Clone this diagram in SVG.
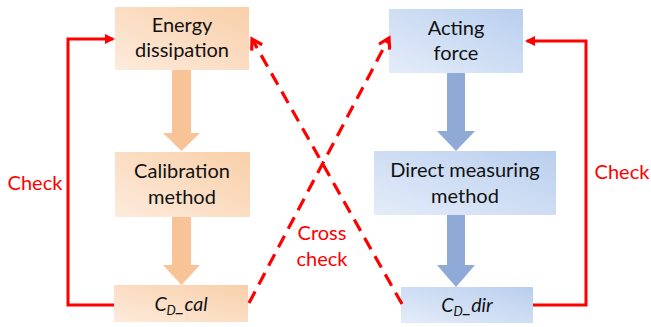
<svg xmlns="http://www.w3.org/2000/svg" width="651" height="327" viewBox="0 0 651 327">
<style>
.lbl{font-family:Lato,"Noto Sans","Liberation Sans",sans-serif;font-size:20px;fill:#111;text-anchor:middle}
.red{font-family:Lato,"Noto Sans","Liberation Sans",sans-serif;font-size:20px;fill:#ff0000;text-anchor:middle}
.it{font-style:italic;font-size:19.5px}
.chk{fill:none;stroke:#ff0000;stroke-width:3}
.dash{fill:none;stroke:#ff0000;stroke-width:3.2;stroke-dasharray:13 8}
</style>
<defs>
<linearGradient id="og" x1="1" y1="0" x2="0" y2="1">
<stop offset="0" stop-color="#f9cfa9"/><stop offset="1" stop-color="#fdebdc"/>
</linearGradient>
<linearGradient id="bg" x1="1" y1="0" x2="0" y2="1">
<stop offset="0" stop-color="#b9cfee"/><stop offset="1" stop-color="#e4ecf9"/>
</linearGradient>
<marker id="tri" markerWidth="10" markerHeight="10" refX="8" refY="5" orient="auto" markerUnits="userSpaceOnUse">
<path d="M0,0 L10,5 L0,10 Z" fill="#ff0000"/>
</marker>
<marker id="chev" markerWidth="14" markerHeight="14" refX="11" refY="7" orient="auto" markerUnits="userSpaceOnUse">
<path d="M1,1 L11,7 L1,13" fill="none" stroke="#ff0000" stroke-width="3.2"/>
</marker>
</defs>
<g id="block-arrows">
<path d="M172,70 H191 V133 H200 L181.5,151 L163,133 H172 Z" fill="#f8c497"/>
<path d="M172,217 H191 V265 H200 L181.5,285 L163,265 H172 Z" fill="#f8c497"/>
<path d="M447,73 H465 V131 H475 L456,151 L437,131 H447 Z" fill="#8faad6"/>
<path d="M447,215 H465 V265 H475 L456,287 L437,265 H447 Z" fill="#8faad6"/>
</g>
<g id="energy">
<rect x="115" y="7" width="134" height="63" fill="url(#og)"/>
<text class="lbl" x="182" y="32">Energy</text>
<text class="lbl" x="182" y="57">dissipation</text>
</g>
<g id="calibration">
<rect x="115" y="152" width="135" height="65" fill="url(#og)"/>
<text class="lbl" x="182" y="178">Calibration</text>
<text class="lbl" x="182" y="204">method</text>
</g>
<g id="cdcal">
<rect x="114" y="285" width="134" height="37" fill="url(#og)"/>
<text class="lbl it" x="181" y="311">C<tspan font-size="13" dy="4">D</tspan><tspan dy="-4">_cal</tspan></text>
</g>
<g id="acting">
<rect x="389" y="9" width="134" height="64" fill="url(#bg)"/>
<text class="lbl" x="456" y="35">Acting</text>
<text class="lbl" x="456" y="60">force</text>
</g>
<g id="direct">
<rect x="374" y="151" width="182" height="64" fill="url(#bg)"/>
<text class="lbl" x="465" y="177">Direct measuring</text>
<text class="lbl" x="465" y="203">method</text>
</g>
<g id="cddir">
<rect x="401" y="287" width="132" height="36" fill="url(#bg)"/>
<text class="lbl it" x="467" y="312">C<tspan font-size="13" dy="4">D</tspan><tspan dy="-4">_dir</tspan></text>
</g>
<g id="connectors">
<path class="chk" d="M114,305 H68 V39 H113" marker-end="url(#tri)"/>
<path class="chk" d="M533,305 H586 V41 H527" marker-end="url(#tri)"/>
<path class="dash" d="M249,303 L389,38" marker-end="url(#chev)"/>
<path class="dash" d="M402,304 L252,39" marker-end="url(#chev)"/>
</g>
<g id="labels">
<text class="red" x="35" y="190">Check</text>
<text class="red" x="622" y="179">Check</text>
<text class="red" x="322" y="240">Cross</text>
<text class="red" x="322" y="266">check</text>
</g>
</svg>
